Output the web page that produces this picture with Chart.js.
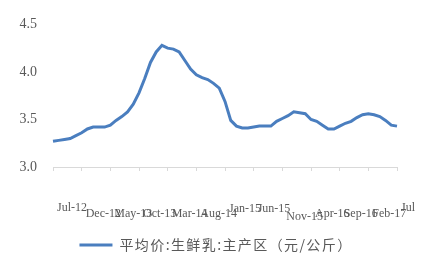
<!DOCTYPE html>
<html>
<head>
<meta charset="utf-8">
<script src="https://cdn.jsdelivr.net/npm/chart.js@4.4.0/dist/chart.umd.min.js"></script>
<style>
html,body{margin:0;padding:0;background:#fff;}
#c{display:block;}
</style>
</head>
<body>
<canvas id="c" width="433" height="262"></canvas>
<script>
const months = [
  "Jul-12","Aug-12","Sep-12","Oct-12","Nov-12","Dec-12",
  "Jan-13","Feb-13","Mar-13","Apr-13","May-13","Jun-13","Jul-13","Aug-13","Sep-13","Oct-13","Nov-13","Dec-13",
  "Jan-14","Feb-14","Mar-14","Apr-14","May-14","Jun-14","Jul-14","Aug-14","Sep-14","Oct-14","Nov-14","Dec-14",
  "Jan-15","Feb-15","Mar-15","Apr-15","May-15","Jun-15","Jul-15","Aug-15","Sep-15","Oct-15","Nov-15","Dec-15",
  "Jan-16","Feb-16","Mar-16","Apr-16","May-16","Jun-16","Jul-16","Aug-16","Sep-16","Oct-16","Nov-16","Dec-16",
  "Jan-17","Feb-17","Mar-17","Apr-17","May-17","Jun-17","Jul-17"
];
const prices = [
  3.27,3.28,3.29,3.30,3.33,3.36,3.40,3.42,3.42,3.42,
  3.44,3.49,3.53,3.58,3.66,3.78,3.93,4.10,4.21,4.28,
  4.25,4.24,4.21,4.12,4.03,3.97,3.94,3.92,3.88,3.83,
  3.69,3.49,3.43,3.41,3.41,3.42,3.43,3.43,3.43,3.48,
  3.51,3.54,3.58,3.57,3.56,3.50,3.48,3.44,3.40,3.40,
  3.43,3.46,3.48,3.52,3.55,3.56,3.55,3.53,3.49,3.44,
  3.43
];
const tickLabels = ["Jul-12","Dec-12","May-13","Oct-13","Mar-14","Aug-14","Jan-15","Jun-15","Nov-15","Apr-16","Sep-16","Feb-17","Jul-17"];
const yTicks = [3.0, 3.5, 4.0, 4.5];
const seriesName = "平均价:生鲜乳:主产区（元/公斤）";

const lineColor = "#4A7EBF";
const textColor = "#595959";
const axisColor = "#D9D9D9";
const rowY = [208, 214, 214, 214, 214, 214, 209, 209, 217, 214, 214, 214, 208];

const xLabelPlugin = {
  id: "xlabels",
  afterDraw(chart) {
    const s = chart.scales.x;
    const ctx = chart.ctx;
    ctx.save();
    ctx.beginPath();
    ctx.rect(0, s.top, 415, s.height);
    ctx.clip();
    ctx.font = '12px "Liberation Serif"';
    ctx.fillStyle = textColor;
    ctx.textAlign = "left";
    ctx.textBaseline = "middle";
    s.ticks.forEach((t, i) => {
      ctx.fillText(tickLabels[i], s.getPixelForTick(i) + 4, rowY[i]);
    });
    ctx.restore();
  }
};

const legendSpacingPlugin = {
  id: "legendSpacing",
  beforeLayout(chart) {
    const lg = chart.legend;
    if (lg && !lg._wrapped) {
      lg._wrapped = true;
      const ctx = chart.ctx;
      const origFit = lg.fit;
      lg.fit = function () {
        ctx.save();
        ctx.letterSpacing = "1.4px";
        origFit.apply(this, arguments);
        ctx.restore();
      };
      const origDraw = lg.draw;
      lg.draw = function () {
        ctx.save();
        ctx.letterSpacing = "1.4px";
        origDraw.apply(this, arguments);
        ctx.restore();
      };
    }
  },
  afterLayout(chart) {
    const lg = chart.legend;
    if (lg) {
      lg.left = 0;
      lg.right = 432;
    }
  }
};

new Chart(document.getElementById("c"), {
  type: "line",
  data: {
    labels: months,
    datasets: [{
      label: seriesName,
      data: prices,
      borderColor: lineColor,
      backgroundColor: lineColor,
      borderWidth: 3,
      pointRadius: 0,
      tension: 0,
      fill: false
    }]
  },
  options: {
    responsive: false,
    animation: false,
    layout: { padding: { top: 22, left: 0, right: 36, bottom: 0 } },
    plugins: {
      tooltip: { enabled: false },
      legend: {
        display: true,
        position: "bottom",
        labels: {
          boxWidth: 33,
          boxHeight: 3,
          padding: 10,
          color: textColor,
          font: { family: '"Noto Sans CJK SC"', size: 14 },
          generateLabels: (chart) => [{
            text: seriesName,
            fillStyle: lineColor,
            strokeStyle: lineColor,
            lineWidth: 0,
            hidden: false,
            datasetIndex: 0,
            fontColor: textColor
          }]
        }
      }
    },
    scales: {
      x: {
        type: "category",
        offset: false,
        afterBuildTicks: (s) => {
          s.ticks = s.ticks.filter(t => tickLabels.includes(months[t.value]));
        },
        afterFit: (s) => { s.height = 262 - 167 - s.chart.legend.height; },
        ticks: { display: false, autoSkip: false, maxRotation: 0 },
        grid: { display: true, drawOnChartArea: false, drawTicks: true, tickLength: 4, color: axisColor },
        border: { display: true, color: axisColor, width: 1 }
      },
      y: {
        min: 3.0,
        max: 4.5,
        afterBuildTicks: (s) => { s.ticks = yTicks.map(v => ({ value: v })); },
        afterFit: (s) => { s.width = 53; },
        ticks: {
          padding: 16,
          color: textColor,
          font: { family: '"Liberation Serif"', size: 14 },
          callback: (v) => Number(v).toFixed(1)
        },
        grid: { display: false, drawTicks: false },
        border: { display: false }
      }
    }
  },
  plugins: [xLabelPlugin, legendSpacingPlugin]
});
</script>
</body>
</html>
